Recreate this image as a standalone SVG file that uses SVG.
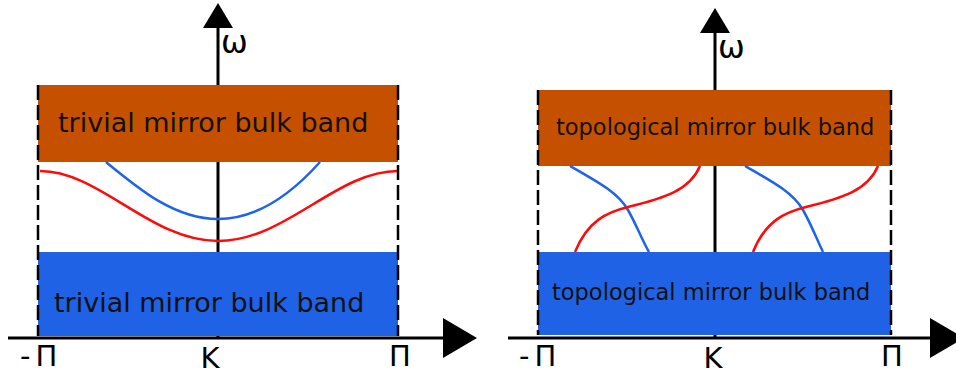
<svg xmlns="http://www.w3.org/2000/svg" width="956" height="374" viewBox="0 0 956 374">
<style>
.bg{fill:#fff}
.orange{fill:#C55100}
.blue{fill:#1F62E6}
.axis{stroke:#000;stroke-width:3;fill:none}
.dash{stroke:#000;stroke-width:2.5;stroke-dasharray:15 5;fill:none}
.cr{stroke:#FF0A0A;stroke-width:2.5;fill:none}
.cb{stroke:#1E63EC;stroke-width:2.5;fill:none}
.head{fill:#000}
.lbl{font-family:"DejaVu Sans",Verdana,sans-serif;fill:#111}
.ax{font-family:"DejaVu Sans",Verdana,sans-serif;fill:#000;font-size:29px}
.om{font-family:"DejaVu Sans",Verdana,sans-serif;fill:#000;font-size:32px}
</style>
<rect class="bg" width="956" height="374"/>

<g id="left-panel">
  <g id="connectors-left">
    <line class="axis" x1="218" y1="24" x2="218" y2="338"/>
    <polygon class="head" points="218,3 203,28 233,28"/>
    <line class="axis" x1="8" y1="338" x2="446" y2="338"/>
    <polygon class="head" points="443,318 477,338 443,358"/>
  </g>
  <g id="left-top-band">
    <rect class="orange" x="38" y="85" width="360" height="77"/>
    <text class="lbl" x="58" y="132" font-size="27">trivial mirror bulk band</text>
  </g>
  <g id="left-bottom-band">
    <rect class="blue" x="38" y="252" width="360" height="84"/>
    <text class="lbl" x="54" y="312" font-size="27">trivial mirror bulk band</text>
  </g>
  <g id="left-curves">
    <path class="cb" d="M106,162 C140,190 175,219 218,219 C260,219 295,190 320,162"/>
    <path class="cr" d="M40,171 C100,171 150,241 218,241 C286,241 336,171 398,171"/>
  </g>
  <line class="dash" x1="38" y1="85" x2="38" y2="336"/>
  <line class="dash" x1="398" y1="85" x2="398" y2="336"/>
  <text class="om" x="221" y="53">ω</text>
  <text class="ax" x="20" y="366" letter-spacing="5">-Π</text>
  <text class="ax" x="210" y="368" text-anchor="middle">K</text>
  <text class="ax" x="400" y="366" text-anchor="middle">Π</text>
</g>

<g id="right-panel">
  <g id="connectors-right">
    <line class="axis" x1="715" y1="28" x2="715" y2="338"/>
    <polygon class="head" points="715,8 700,33 730,33"/>
    <line class="axis" x1="508" y1="338" x2="933" y2="338"/>
    <polygon class="head" points="930,318 964,338 930,358"/>
  </g>
  <g id="right-top-band">
    <rect class="orange" x="538" y="90" width="353" height="76"/>
    <text class="lbl" x="556" y="135" font-size="22.5">topological mirror bulk band</text>
  </g>
  <g id="right-bottom-band">
    <rect class="blue" x="538" y="252" width="353" height="83"/>
    <text class="lbl" x="552" y="300" font-size="22.5">topological mirror bulk band</text>
  </g>
  <g id="right-curves">
    <path class="cb" d="M570,166 C600,183 618,193 628,210 C637,226 642,240 649,252"/>
    <path class="cr" d="M575,252 C588,220 608,212 628,207 C665,198 690,190 700,166"/>
    <path class="cb" d="M745,166 C775,183 793,193 803,210 C812,226 817,240 823,252"/>
    <path class="cr" d="M753,252 C766,220 786,212 806,207 C843,198 868,190 878,166"/>
  </g>
  <line class="dash" x1="538" y1="90" x2="538" y2="335"/>
  <line class="dash" x1="891" y1="90" x2="891" y2="335"/>
  <text class="om" x="718" y="58">ω</text>
  <text class="ax" x="519" y="366" letter-spacing="5">-Π</text>
  <text class="ax" x="713" y="368" text-anchor="middle">K</text>
  <text class="ax" x="892" y="366" text-anchor="middle">Π</text>
</g>
</svg>
